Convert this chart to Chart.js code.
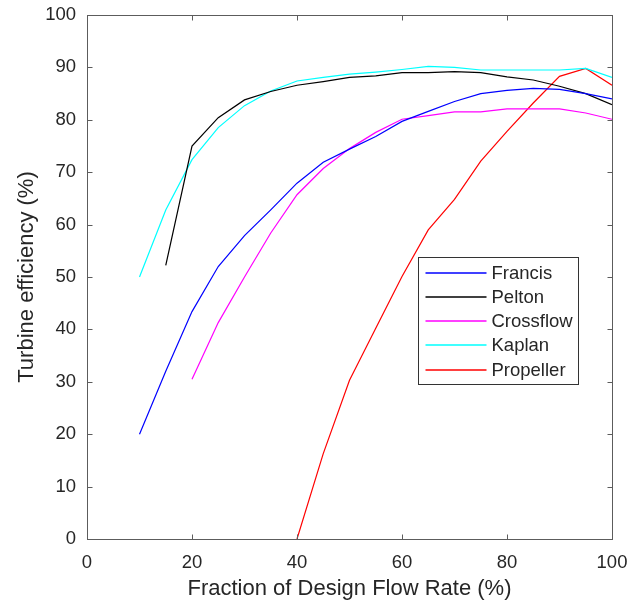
<!DOCTYPE html>
<html>
<head>
<meta charset="utf-8">
<script src="https://cdn.jsdelivr.net/npm/chart.js@4.4.1/dist/chart.umd.min.js"></script>
<style>
    html, body { margin: 0; padding: 0; background: #fff; }
    #wrap { width: 627px; height: 604px; }
</style>
</head>
<body>
<div id="wrap"><canvas id="chart1"></canvas></div>
<script>
// Fracción del caudal de diseño (%)
const flujo = [10, 15, 20, 25, 30, 35, 40, 45, 50, 55, 60, 65, 70, 75, 80, 85, 90, 95, 100];

// Eficiencia de cada turbina (%), null donde no hay dato
const francis   = [20.0, 32.0, 43.4, 52.0, 57.9, 62.8, 67.9, 71.9, 74.4, 76.8, 79.7, 81.6, 83.5, 85.0, 85.6, 86.0, 85.8, 85.0, 84.0];
const pelton    = [null, 52.2, 75.0, 80.4, 83.8, 85.4, 86.6, 87.3, 88.1, 88.4, 89.0, 89.0, 89.2, 89.0, 88.2, 87.6, 86.4, 85.0, 82.9];
const crossflow = [null, null, 30.5, 41.3, 50.0, 58.4, 65.7, 70.7, 74.5, 77.6, 80.1, 80.8, 81.5, 81.5, 82.1, 82.1, 82.1, 81.3, 80.1];
const kaplan    = [50.0, 62.8, 72.4, 78.5, 82.7, 85.5, 87.4, 88.1, 88.7, 89.1, 89.6, 90.2, 90.0, 89.5, 89.5, 89.5, 89.5, 89.8, 88.1];
const propeller = [null, null, null, null, null, null, 0.0, 16.3, 30.3, 40.2, 50.1, 59.0, 64.8, 72.1, 77.8, 83.2, 88.3, 89.8, 86.6];

const nombres = ['Francis', 'Pelton', 'Crossflow', 'Kaplan', 'Propeller'];
const colores = ['#0000ff', '#000000', '#ff00ff', '#00ffff', '#ff0000'];
const series  = [francis, pelton, crossflow, kaplan, propeller];

// Ticks de los ejes
const ticksX = [0, 20, 40, 60, 80, 100];
const ticksY = [0, 10, 20, 30, 40, 50, 60, 70, 80, 90, 100];

const FUENTE = 'Arial, "Liberation Sans", Helvetica, sans-serif';
const GRIS = '#5c5c5c';
const TEXTO = '#262626';

// Plugin para el marco, los ticks hacia adentro y la leyenda
const marcoYLeyenda = {
    id: 'marcoYLeyenda',
    afterDatasetsDraw(chart) {
        const ctx = chart.ctx;
        const a = chart.chartArea;
        const sx = chart.scales.x;
        const sy = chart.scales.y;
        const L = Math.round(a.left) + 0.5, R = Math.round(a.right) + 0.5;
        const T = Math.round(a.top) + 0.5, B = Math.round(a.bottom) + 0.5;
        ctx.save();
        ctx.strokeStyle = GRIS;
        ctx.lineWidth = 1;
        ctx.strokeRect(L, T, R - L, B - T);
        ctx.beginPath();
        ticksX.forEach(v => {
            const px = Math.round(sx.getPixelForValue(v)) + 0.5;
            ctx.moveTo(px, B); ctx.lineTo(px, B - 5);
            ctx.moveTo(px, T); ctx.lineTo(px, T + 5);
        });
        ticksY.forEach(v => {
            const py = Math.round(sy.getPixelForValue(v)) + 0.5;
            ctx.moveTo(L, py); ctx.lineTo(L + 5, py);
            ctx.moveTo(R, py); ctx.lineTo(R - 5, py);
        });
        ctx.stroke();

        // Leyenda
        const bx = Math.round(a.right - 194) + 0.5;
        const by = Math.round(a.top + 242) + 0.5;
        const bw = 160, bh = 127;
        ctx.fillStyle = '#fff';
        ctx.fillRect(bx, by, bw, bh);
        ctx.strokeStyle = '#333';
        ctx.lineWidth = 1;
        ctx.strokeRect(bx, by, bw, bh);
        ctx.font = '18.5px ' + FUENTE;
        ctx.textBaseline = 'middle';
        nombres.forEach((n, i) => {
            const y = Math.round(by + 15 + i * 24.3);
            ctx.strokeStyle = colores[i];
            ctx.lineWidth = 2;
            ctx.globalAlpha = 0.75;
            ctx.beginPath();
            ctx.moveTo(bx + 7, y);
            ctx.lineTo(bx + 68, y);
            ctx.stroke();
            ctx.globalAlpha = 1;
            ctx.fillStyle = TEXTO;
            ctx.fillText(n, bx + 73, y + 1);
        });
        ctx.restore();
    }
};

new Chart(document.getElementById('chart1'), {
    type: 'line',
    data: {
        datasets: series.map((s, i) => ({
            label: nombres[i],
            data: flujo.map((f, j) => ({ x: f, y: s[j] })),
            borderColor: colores[i],
            backgroundColor: colores[i],
            borderWidth: 1.2,
            pointRadius: 0,
            tension: 0,
            fill: false,
            spanGaps: false
        }))
    },
    options: {
        responsive: true,
        maintainAspectRatio: false,
        animation: false,
        layout: { padding: { top: 15, right: 15, left: 0, bottom: 0 } },
        plugins: {
            legend: { display: false },
            tooltip: { enabled: false }
        },
        scales: {
            x: {
                type: 'linear',
                min: 0,
                max: 100,
                afterFit: s => { s.height = 65; s.paddingLeft = 0; s.paddingRight = 0; },
                afterBuildTicks: s => { s.ticks = ticksX.map(v => ({ value: v })); },
                grid: { display: false, drawTicks: false },
                border: { display: false },
                ticks: { color: TEXTO, font: { family: FUENTE, size: 18.5 }, padding: 13, maxRotation: 0 },
                title: {
                    display: true,
                    text: 'Fraction of Design Flow Rate (%)',
                    color: TEXTO,
                    font: { family: FUENTE, size: 22 },
                    padding: { bottom: 2, top: 0 }
                }
            },
            y: {
                type: 'linear',
                min: 0,
                max: 100,
                afterFit: s => { s.width = 87; s.paddingTop = 0; s.paddingBottom = 0; },
                afterBuildTicks: s => { s.ticks = ticksY.map(v => ({ value: v })); },
                grid: { display: false, drawTicks: false },
                border: { display: false },
                ticks: { color: TEXTO, font: { family: FUENTE, size: 18.5 }, padding: 11 },
                title: {
                    display: true,
                    text: 'Turbine efficiency (%)',
                    color: TEXTO,
                    font: { family: FUENTE, size: 22 },
                    padding: { top: 14, bottom: 0 }
                }
            }
        }
    },
    plugins: [marcoYLeyenda]
});
</script>
</body>
</html>
